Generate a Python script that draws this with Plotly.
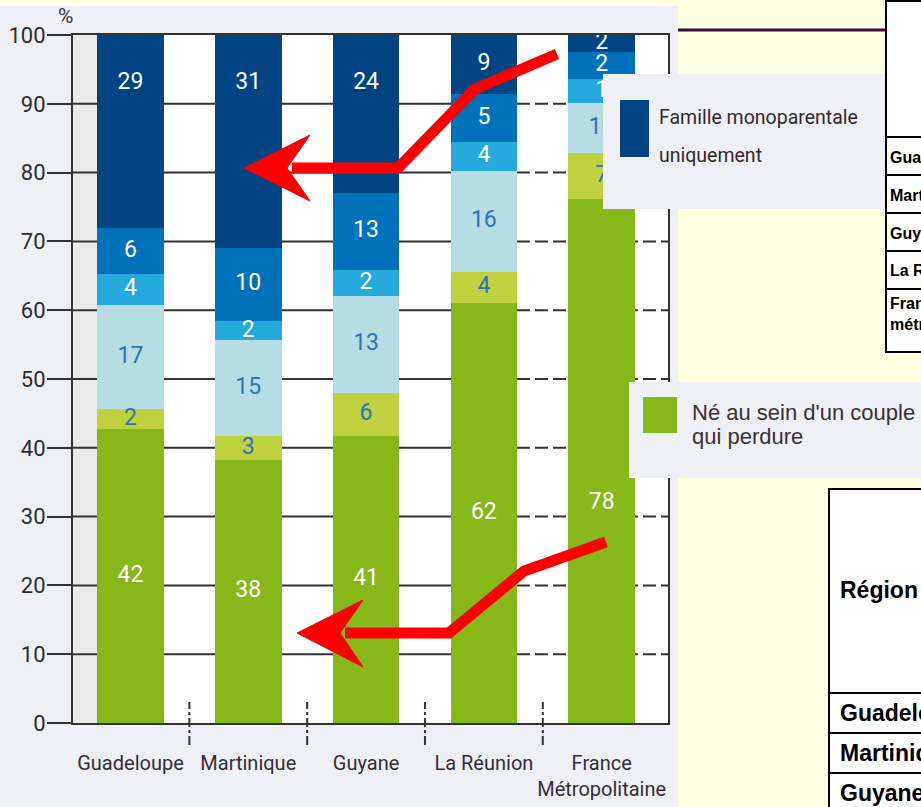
import plotly.graph_objects as go

W, H = 921, 807

categories = ["Guadeloupe", "Martinique", "Guyane", "La Réunion", "France<br>Métropolitaine"]

couple_perdure = [42.8, 38.2, 41.7, 61.0, 76.1]
segment_2 = [2.8, 3.5, 6.3, 4.6, 6.7]
segment_3 = [15.2, 13.9, 14.1, 14.7, 7.3]
segment_4 = [4.4, 2.8, 3.7, 4.1, 3.5]
segment_5 = [6.8, 10.6, 11.3, 7.0, 3.9]
monoparentale = [28.0, 31.0, 22.9, 8.6, 2.5]

# valeurs affichees dans les barres
lbl_couple = ["42", "38", "41", "62", "78"]
lbl_2 = ["2", "3", "6", "4", "7"]
lbl_3 = ["17", "15", "13", "16", "10"]
lbl_4 = ["4", "2", "2", "4", "1"]
lbl_5 = ["6", "10", "13", "5", "2"]
lbl_mono = ["29", "31", "24", "9", "2"]

yticks = [0, 10, 20, 30, 40, 50, 60, 70, 80, 90, 100]

table_top = ["Guadeloupe", "Martinique", "Guyane", "La Réunion", "France<br>métropolitaine"]
table_bottom = ["Guadeloupe", "Martinique", "Guyane"]

NARROW = "Roboto, Liberation Sans, sans-serif"
SANS = "Liberation Sans, Arial, sans-serif"
BLUE_TXT = "#2f72b8"


def px(x):
    return x / W


def py(y):
    return 1 - y / H


def rect(x0, y0, x1, y1, color, layer="above", line=None):
    return dict(type="rect", xref="paper", yref="paper", x0=px(x0), x1=px(x1),
                y0=py(y1), y1=py(y0), fillcolor=color, layer=layer,
                line=line or dict(width=0))


def hline(x0, x1, y, color="black", width=2):
    return dict(type="line", xref="paper", yref="paper", x0=px(x0), x1=px(x1),
                y0=py(y), y1=py(y), line=dict(color=color, width=width), layer="above")


def path(points, close=False):
    p = "M " + " L ".join(f"{px(x):.5f},{py(y):.5f}" for x, y in points)
    return p + (" Z" if close else "")


def arrow(points, head):
    shaft = dict(type="path", xref="paper", yref="paper", path=path(points),
                 line=dict(color="#ff0000", width=11), layer="above")
    tip = dict(type="path", xref="paper", yref="paper", path=path(head, close=True),
               fillcolor="#ff0000", line=dict(color="#ff0000", width=1), layer="above")
    return [shaft, tip]


def build_graph():
    fig = go.Figure()

    series = [
        ("Né au sein d'un couple qui perdure", couple_perdure, lbl_couple, "#86b81a", "white"),
        ("Segment 2", segment_2, lbl_2, "#bfd13f", BLUE_TXT),
        ("Segment 3", segment_3, lbl_3, "#b5dde3", BLUE_TXT),
        ("Segment 4", segment_4, lbl_4, "#26a9dd", "white"),
        ("Segment 5", segment_5, lbl_5, "#0072bb", "white"),
        ("Famille monoparentale uniquement", monoparentale, lbl_mono, "#004483", "white"),
    ]

    base = [0.0] * len(categories)
    for i, (name, vals, lbls, color, tcol) in enumerate(series):
        fig.add_trace(go.Bar(x=categories, y=vals, name=name, marker_color=color,
                             marker_line_width=0, width=0.565))
        mid = [b + v / 2 for b, v in zip(base, vals)]
        if i == 0:
            mid = [min(m, 32) for m in mid]
        if i == len(series) - 1:
            mid = [max(m, 93) for m in mid]
        fig.add_trace(go.Scatter(x=categories, y=mid, mode="text", text=lbls,
                                 textfont=dict(family=NARROW, size=23, color=tcol),
                                 cliponaxis=False, hoverinfo="skip"))
        base = [b + v for b, v in zip(base, vals)]

    shapes = [
        rect(0, 6, 678, 807, "#eff0f6", layer="below"),
        rect(73, 35, 668, 723, "white", layer="below"),
        rect(73, 35, 98, 723, "#eaeaea", layer="below"),
    ]
    # grille : pleine a gauche, tiretee a droite
    for t in yticks[1:-1]:
        shapes.append(dict(type="line", xref="paper", yref="y", x0=px(73), x1=px(481),
                           y0=t, y1=t, line=dict(color="#333", width=2), layer="between"))
        shapes.append(dict(type="line", xref="paper", yref="y", x0=px(481), x1=px(668),
                           y0=t, y1=t, line=dict(color="#333", width=2, dash="13px,5px"),
                           layer="between"))
    for k in range(len(categories) - 1):
        shapes.append(dict(type="line", xref="x", yref="paper", x0=k + 0.5, x1=k + 0.5,
                           y0=py(745), y1=py(702), line=dict(color="#333", width=2, dash="dashdot"),
                           layer="above"))

    # ligne et tableaux de droite
    shapes.append(hline(678, 885, 30, color="#3d0b3d", width=3))
    shapes.append(rect(886, 1, 935, 352, "white", line=dict(color="black", width=2)))
    for y in [137, 175, 213, 251, 289]:
        shapes.append(hline(886, 935, y))
    shapes.append(rect(829, 489, 935, 830, "white", line=dict(color="black", width=2)))
    for y in [693, 733, 773]:
        shapes.append(hline(829, 935, y))

    # legendes
    shapes.append(rect(603, 74, 885, 209, "#eff0f6"))
    shapes.append(rect(620, 100, 649, 157, "#004483"))
    shapes.append(rect(629, 382, 935, 478, "#eff0f6"))
    shapes.append(rect(643, 397, 677, 433, "#86b81a"))

    # fleches rouges
    shapes += arrow([(557, 54), (475, 89), (398, 168), (292, 168)],
                    [(244, 168), (310, 135), (287, 168), (310, 201)])
    shapes += arrow([(606, 542), (524, 571), (449, 633), (345, 633)],
                    [(297, 633), (363, 600), (340, 633), (363, 667)])

    ann = []

    def text(x, y, s, size, family, color="#3b2f35", anchor="left"):
        ann.append(dict(xref="paper", yref="paper", x=px(x), y=py(y), text=s, showarrow=False,
                        xanchor=anchor, yanchor="middle", align="left",
                        font=dict(family=family, size=size, color=color)))

    text(65, 16, "%", 21, NARROW, anchor="center")
    text(657, 117, "Famille monoparentale", 19.5, NARROW, color="#33282e")
    text(657, 156, "uniquement", 19.5, NARROW, color="#33282e")
    text(690, 412, "Né au sein d'un couple", 22, SANS)
    text(690, 436, "qui perdure", 22, SANS)
    for name, y in zip(table_top, [157, 195, 233, 270, 314]):
        text(888, y, f"<b>{name}</b>", 16, SANS, color="black")
    text(838, 590, "<b>Région</b>", 23, SANS, color="black")
    for name, y in zip(table_bottom, [713, 753, 793]):
        text(838, y, f"<b>{name}</b>", 23, SANS, color="black")

    fig.update_layout(
        width=W, height=H, margin=dict(l=0, r=0, t=0, b=0, pad=0),
        paper_bgcolor="#ffffe1", plot_bgcolor="white",
        barmode="stack", showlegend=False,
        shapes=shapes, annotations=ann,
        xaxis=dict(domain=[px(73), px(668)], range=[-0.488, 4.563], showgrid=False,
                   showline=True, linecolor="#333", linewidth=2, mirror=True, ticks="",
                   tickangle=0, automargin=False,
                   tickfont=dict(family=NARROW, size=20, color="#352b3a"),
                   ticklabelstandoff=21, fixedrange=True),
        yaxis=dict(domain=[py(723), py(35)], range=[0, 100], tickvals=yticks,
                   showgrid=False, zeroline=False, showline=True, linecolor="#333",
                   linewidth=2, mirror=True, ticks="outside", ticklen=24, tickwidth=2,
                   tickcolor="#333", automargin=False,
                   tickfont=dict(family=NARROW, size=22, color="#2b2b35"),
                   ticklabelstandoff=-3, fixedrange=True),
    )
    return fig


def main():
    fig = build_graph()
    fig.write_html("out.html", config={"displayModeBar": False},
                   post_script="document.body.style.margin='0';")


if __name__ == "__main__":
    main()
